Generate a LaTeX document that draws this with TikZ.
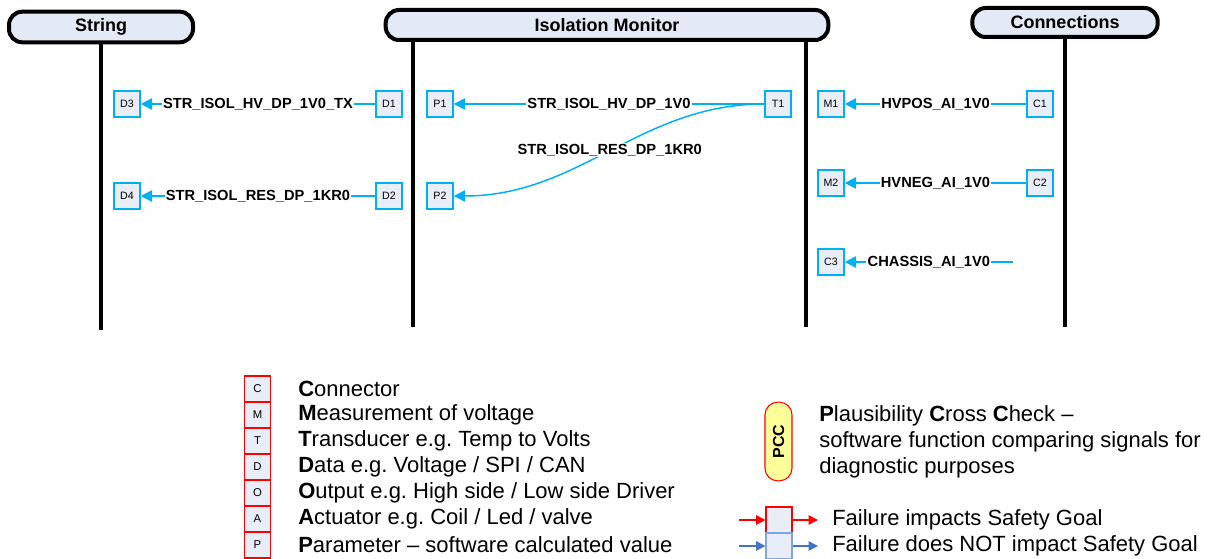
\documentclass[tikz,border=0pt]{standalone}
\usepackage{fontspec}
\setmainfont{Liberation Sans}
\usetikzlibrary{arrows.meta}
\frenchspacing
\definecolor{cyanc}{HTML}{00B0F0}
\definecolor{boxfill}{HTML}{E8EDF7}
\definecolor{hdrfill}{HTML}{E4EAF5}
\definecolor{pccfill}{HTML}{FFFF99}
\definecolor{bluearr}{HTML}{4472C4}
\definecolor{bluebox}{HTML}{7EA6E0}
\tikzset{
  hdr/.style={draw=black, line width=3pt, rounded corners=10pt, fill=hdrfill, inner sep=0pt,
    font=\bfseries\fontsize{13.5}{16}\selectfont},
  life/.style={line width=3pt},
  sbox/.style={draw=cyanc, line width=1.1pt, fill=boxfill, minimum size=19.5pt, inner sep=0pt,
    font=\fontsize{8}{9}\selectfont},
  conn/.style={draw=cyanc, line width=1.1pt, -{Triangle[length=8.5pt,width=8.5pt]}},
  lbl/.style={fill=white, inner sep=1pt, font=\bfseries\fontsize{11}{13}\selectfont},
  legbox/.style={draw=red, line width=0.8pt, fill=boxfill, minimum size=19.5pt, inner sep=0pt,
    font=\fontsize{8.5}{9}\selectfont},
  legtext/.style={anchor=west, inner sep=0pt, font=\fontsize{16.5}{19.5}\selectfont\frenchspacing},
  farrow/.style={line width=1.1pt, -{Triangle[length=7pt,width=7pt]}}
}
\begin{document}
\begin{tikzpicture}[x=0.75pt,y=-0.75pt]
\useasboundingbox (0,0) rectangle (1208,559);
% lifelines
\draw[life] (101,40) -- (101,330);
\draw[life] (413,38) -- (413,327);
\draw[life] (806,38) -- (806,327);
\draw[life] (1065,35) -- (1065,327);
% headers
\node[hdr, minimum width=138pt, minimum height=23pt] (hs) at (101,27) {String};
\node[hdr, minimum width=332pt, minimum height=22.5pt] (him) at (607,25) {Isolation Monitor};
\node[hdr, minimum width=139pt, minimum height=21.75pt] (hc) at (1065,22.5) {Connections};
% boxes
\node[sbox] (D3) at (127,104) {D3};
\node[sbox] (D1) at (389,104) {D1};
\node[sbox] (D4) at (127,196) {D4};
\node[sbox] (D2) at (389,196) {D2};
\node[sbox] (P1) at (440,104) {P1};
\node[sbox] (T1) at (778,104) {T1};
\node[sbox] (P2) at (440,196) {P2};
\node[sbox] (M1) at (831,104) {M1};
\node[sbox] (C1) at (1040,104) {C1};
\node[sbox] (M2) at (831,183) {M2};
\node[sbox] (C2) at (1040,183) {C2};
\node[sbox] (C3) at (831,262) {C3};
\coordinate (C3src) at (1013,262);
% connectors
\draw[conn] (D1) -- node[lbl] {STR\_ISOL\_HV\_DP\_1V0\_TX} (D3);
\draw[conn] (D2) -- node[lbl] {STR\_ISOL\_RES\_DP\_1KR0} (D4);
\draw[conn] (T1) -- node[lbl] {STR\_ISOL\_HV\_DP\_1V0} (P1);
\draw[conn] (T1.west) .. controls (640,104) and (580,196) .. node[lbl, pos=0.5] {STR\_ISOL\_RES\_DP\_1KR0} (P2.east);
\draw[conn] (C1) -- node[lbl] {HVPOS\_AI\_1V0} (M1);
\draw[conn] (C2) -- node[lbl] {HVNEG\_AI\_1V0} (M2);
\draw[conn] (C3src) -- node[lbl] {CHASSIS\_AI\_1V0} (C3);
% legend
\node[legbox] (lC) at (257.5,389) {C};
\node[legbox] (lM) at (257.5,415) {M};
\node[legbox] (lT) at (257.5,441) {T};
\node[legbox] (lD) at (257.5,467) {D};
\node[legbox] (lO) at (257.5,493) {O};
\node[legbox] (lA) at (257.5,519) {A};
\node[legbox] (lP) at (257.5,545) {P};
\node[legtext] (tC) at (298,389) {\textbf{C}onnector};
\node[legtext] (tM) at (298,415) {\textbf{M}easurement of voltage};
\node[legtext] (tT) at (298,441) {\textbf{T}ransducer e.g. Temp to Volts};
\node[legtext] (tD) at (298,467) {\textbf{D}ata e.g. Voltage / SPI / CAN};
\node[legtext] (tO) at (298,493) {\textbf{O}utput e.g. High side / Low side Driver};
\node[legtext] (tA) at (298,519) {\textbf{A}ctuator e.g. Coil / Led / valve};
\node[legtext] (tP) at (298,545) {\textbf{P}arameter – software calculated value};
% PCC
\node[draw=red, line width=0.8pt, fill=pccfill, rounded corners=9.5pt, minimum width=20.25pt,
  minimum height=59pt, inner sep=0pt] (pcc) at (778.5,441.5) {};
\node[rotate=90, font=\bfseries\fontsize{12}{14}\selectfont, inner sep=0pt] (pcct) at (pcc.center) {PCC};
\node[legtext, align=left] (pccd) at (819,442) {\textbf{P}lausibility \textbf{C}ross \textbf{C}heck –\\software function comparing signals for\\diagnostic purposes};
% failure legend
\node[draw=red, line width=0.8pt, fill=boxfill, minimum size=19.5pt, inner sep=0pt] (fr) at (779,520) {};
\node[draw=bluebox, line width=0.8pt, fill=boxfill, minimum size=19.5pt, inner sep=0pt] (fb) at (779,546) {};
\coordinate (frin) at (739,520);
\coordinate (frout) at (818,520);
\coordinate (fbin) at (739,546);
\coordinate (fbout) at (818,546);
\draw[farrow, red] (frin) -- (fr.west);
\draw[farrow, red] (fr.east) -- (frout);
\draw[farrow, bluearr] (fbin) -- (fb.west);
\draw[farrow, bluearr] (fb.east) -- (fbout);
\node[legtext] (tfr) at (832,520) {Failure impacts Safety Goal};
\node[legtext] (tfb) at (832,546) {Failure does NOT impact Safety Goal};
\end{tikzpicture}
\end{document}
